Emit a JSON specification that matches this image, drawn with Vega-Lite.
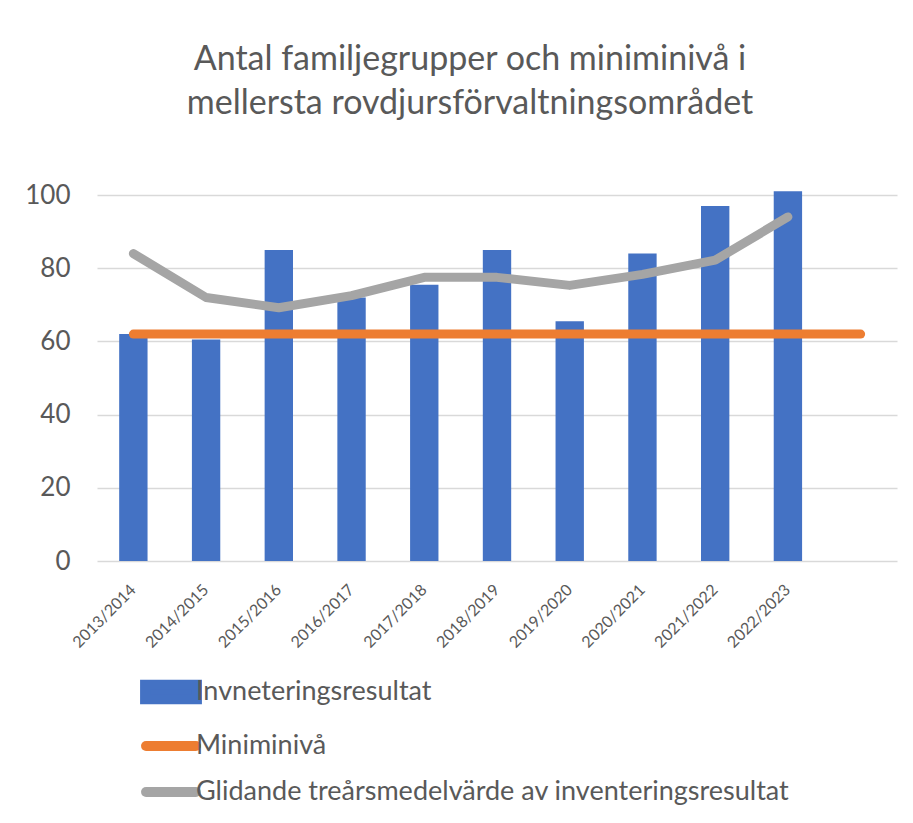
{
  "$schema": "https://vega.github.io/schema/vega-lite/v6.json",
  "autosize": {"type": "none"},
  "width": 800,
  "height": 366,
  "padding": {"left": 97, "top": 195, "right": 16, "bottom": 262},
  "background": "white",
  "config": {
    "font": "Lato",
    "view": {"stroke": null},
    "axis": {"labelColor": "#595959", "labelFont": "Lato"}
  },
  "title": {
    "text": ["Antal familjegrupper och miniminivå i", "mellersta rovdjursförvaltningsområdet"],
    "fontSize": 34,
    "fontWeight": "normal",
    "color": "#595959",
    "anchor": "middle",
    "dx": -27,
    "offset": 61,
    "lineHeight": 44
  },
  "data": {
    "values": [
      {"season": "2013/2014", "value": 62, "min": 62, "avg": 84},
      {"season": "2014/2015", "value": 60.5, "min": 62, "avg": 72},
      {"season": "2015/2016", "value": 85, "min": 62, "avg": 69.2},
      {"season": "2016/2017", "value": 72, "min": 62, "avg": 72.5},
      {"season": "2017/2018", "value": 75.5, "min": 62, "avg": 77.5},
      {"season": "2018/2019", "value": 85, "min": 62, "avg": 77.5},
      {"season": "2019/2020", "value": 65.5, "min": 62, "avg": 75.3},
      {"season": "2020/2021", "value": 84, "min": 62, "avg": 78.3},
      {"season": "2021/2022", "value": 97, "min": 62, "avg": 82.2},
      {"season": "2022/2023", "value": 101, "min": 62, "avg": 94},
      {"season": " ", "value": null, "min": 62, "avg": null}
    ]
  },
  "encoding": {
    "x": {
      "field": "season",
      "type": "nominal",
      "sort": null,
      "scale": {"paddingInner": 0, "paddingOuter": 0},
      "axis": {
        "title": null,
        "labelAngle": -45,
        "labelFontSize": 16,
        "labelAlign": "right",
        "labelBaseline": "middle",
        "labelPadding": 26,
        "domain": false,
        "ticks": false
      }
    }
  },
  "layer": [
    {
      "mark": {"type": "bar", "width": {"band": 0.39}},
      "encoding": {
        "y": {
          "field": "value",
          "type": "quantitative",
          "scale": {"domain": [0, 100], "nice": false},
          "axis": {
            "title": null,
            "values": [0, 20, 40, 60, 80, 100],
            "labelFontSize": 26,
            "labelPadding": 27,
            "domain": false,
            "ticks": false,
            "gridColor": "#D9D9D9",
            "gridWidth": 1.3
          }
        },
        "color": {
          "datum": "Invneteringsresultat",
          "type": "nominal",
          "scale": {
            "domain": ["Invneteringsresultat", "Miniminivå", "Glidande treårsmedelvärde av inventeringsresultat"],
            "range": ["#4472C4", "#ED7D31", "#A5A5A5"]
          },
          "legend": {
            "title": null,
            "orient": "none",
            "legendX": 53,
            "legendY": 476,
            "direction": "vertical",
            "columns": 1,
            "symbolSize": 1024,
            "rowPadding": 5,
            "labelOffset": 4,
            "labelFontSize": 27,
            "labelColor": "#595959",
            "labelFont": "Lato",
            "labelLimit": 800,
            "encode": {
              "symbols": {
                "update": {
                  "shape": {"signal": "datum.value === 'Invneteringsresultat' ? 'M-1.62,-0.45H1.62V0.45H-1.62Z' : 'M-1.56,0H1.56'"},
                  "fill": {"signal": "datum.value === 'Invneteringsresultat' ? '#4472C4' : 'transparent'"},
                  "stroke": {"signal": "datum.value === 'Invneteringsresultat' ? 'transparent' : (datum.value === 'Miniminivå' ? '#ED7D31' : '#A5A5A5')"},
                  "strokeWidth": {"value": 10},
                  "strokeCap": {"value": "round"},
                  "opacity": {"value": 1},
                  "fillOpacity": {"value": 1},
                  "strokeOpacity": {"value": 1}
                }
              }
            }
          }
        }
      }
    },
    {
      "mark": {"type": "line", "strokeWidth": 9, "strokeCap": "round", "strokeJoin": "round"},
      "encoding": {
        "y": {"field": "min", "type": "quantitative"},
        "color": {"datum": "Miniminivå", "type": "nominal"}
      }
    },
    {
      "mark": {"type": "line", "strokeWidth": 9, "strokeCap": "round", "strokeJoin": "round"},
      "encoding": {
        "y": {"field": "avg", "type": "quantitative"},
        "color": {"datum": "Glidande treårsmedelvärde av inventeringsresultat", "type": "nominal"}
      }
    }
  ]
}
